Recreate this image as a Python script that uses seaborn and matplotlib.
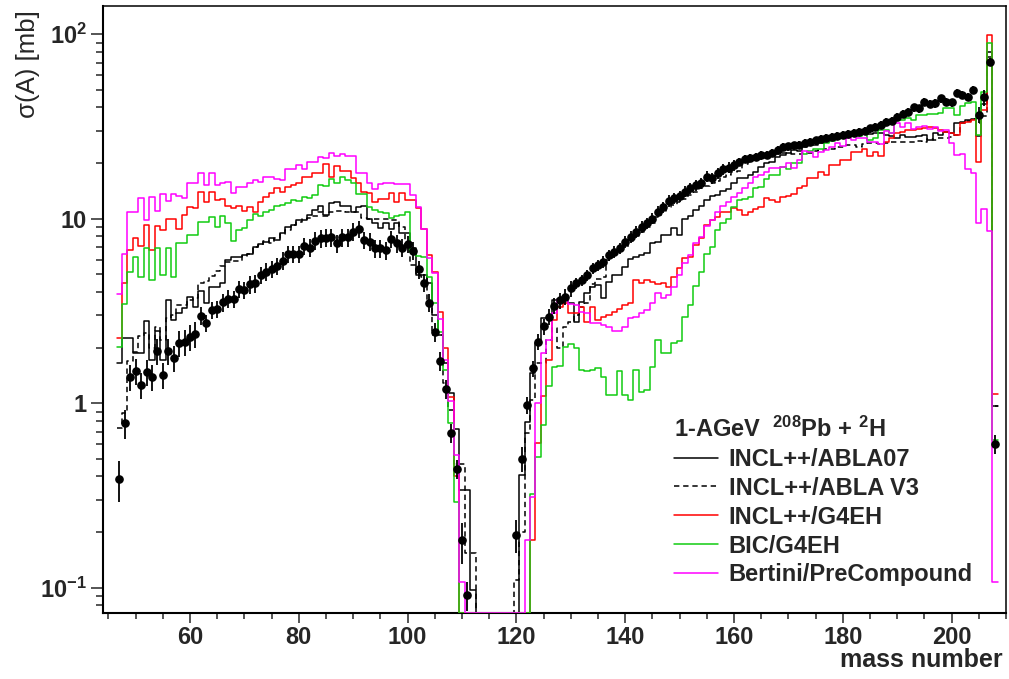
import numpy as np
import pandas as pd
import matplotlib
matplotlib.use('Agg')
import matplotlib.pyplot as plt
import seaborn as sns
from matplotlib.lines import Line2D
from matplotlib.ticker import FixedLocator, FixedFormatter, MultipleLocator, LogLocator, NullFormatter

# mass number of every histogram bin (bin width 1)
mass = np.arange(47, 209)
bin_edges = [a - 0.5 for a in range(47, 210)]

# model predictions [mb], one value per mass number 47..208 (0 = empty bin)
incl_abla07 = [
    1.65, 2.24, 2.26, 1.86, 1.86, 2.79, 1.71, 2.47, 1.71, 3.62,
    2.82, 3.09, 3.26, 3.77, 3.33, 4.06, 3.47, 4.27, 4.27, 4.45,
    5.96, 6.21, 6.21, 6.34, 6.46, 7.03, 7.30, 7.47, 7.81, 7.66,
    8.38, 9.03, 9.22, 9.82, 9.82, 10.4, 11.1, 11.7, 10.4, 12.2,
    12.3, 11.7, 11.7, 10.9, 11.5, 11.7, 10.0, 9.42, 8.85, 9.50,
    8.74, 9.50, 8.31, 8.31, 6.89, 4.94, 4.94, 4.45, 3.00, 2.34,
    1.64, 1.13, 0.72, 0.34, 0.34, 0.097, 0, 0, 0, 0,
    0, 0, 0, 0, 0.41, 0.79, 1.45, 2.11, 2.88, 2.88,
    3.62, 3.65, 3.62, 3.47, 2.76, 3.54, 3.93, 4.27, 4.36, 3.69,
    4.55, 4.94, 4.94, 5.48, 6.01, 6.21, 6.34, 6.53, 7.34, 7.49,
    8.14, 8.14, 8.85, 8.14, 9.90, 10.3, 11.1, 11.7, 12.6, 13.2,
    13.4, 14.1, 14.4, 15.6, 16.5, 16.5, 17.2, 17.9, 19.1, 19.9,
    20.3, 21.6, 22.1, 22.7, 23.5, 23.3, 24.5, 25.0, 25.0, 25.8,
    26.1, 26.9, 27.5, 27.5, 28.4, 28.4, 28.4, 28.7, 28.7, 29.0,
    29.2, 28.4, 28.0, 27.5, 28.4, 27.8, 27.8, 28.0, 28.4, 26.6,
    29.2, 28.4, 29.6, 29.0, 32.8, 33.4, 34.2, 34.8, 28.0, 42.0,
    80.0, 0.96]

incl_ablav3 = [
    0.73, 0.88, 1.70, 1.90, 2.30, 2.40, 2.00, 2.60, 2.20, 2.90,
    3.00, 3.40, 3.40, 3.60, 3.70, 4.50, 4.60, 4.90, 5.20, 5.50,
    5.80, 5.90, 5.90, 6.30, 6.40, 7.00, 7.20, 7.60, 7.40, 7.80,
    8.20, 8.66, 9.22, 9.60, 10.0, 10.1, 10.3, 10.9, 10.3, 10.9,
    11.0, 11.0, 10.9, 10.9, 10.9, 10.1, 9.90, 9.90, 9.90, 9.90,
    9.82, 9.82, 9.03, 7.03, 5.60, 4.94, 4.80, 3.59, 2.34, 2.34,
    1.28, 0.92, 0.47, 0.47, 0.153, 0.153, 0, 0, 0, 0,
    0, 0, 0, 0.11, 0.20, 0.69, 1.04, 1.65, 1.65, 2.20,
    2.54, 1.98, 2.59, 2.76, 3.00, 3.30, 3.50, 4.40, 4.70, 4.80,
    6.00, 6.30, 6.60, 7.00, 7.60, 8.00, 8.50, 9.00, 9.50, 10.2,
    10.8, 11.5, 11.9, 12.3, 12.8, 13.5, 14.0, 14.6, 15.0, 15.6,
    16.0, 16.8, 17.2, 17.8, 18.2, 19.7, 20.2, 20.9, 21.2, 21.6,
    21.9, 22.4, 22.7, 22.7, 22.4, 22.4, 22.7, 22.7, 23.3, 23.5,
    23.9, 23.9, 24.3, 24.5, 24.9, 25.0, 24.5, 25.3, 25.6, 25.6,
    25.3, 25.6, 26.1, 26.1, 25.9, 26.1, 25.9, 26.4, 26.1, 26.9,
    26.6, 27.2, 27.2, 27.8, 28.4, 33.0, 33.8, 34.5, 33.0, 36.0,
    75.0, 0.96]

incl_g4eh = [
    2.26, 4.49, 6.75, 7.81, 7.10, 9.22, 6.75, 9.10, 8.66, 10.0,
    9.90, 8.80, 10.4, 11.6, 11.4, 14.0, 12.3, 14.0, 12.6, 12.7,
    11.7, 11.4, 11.7, 11.0, 11.6, 10.9, 12.3, 13.1, 13.7, 14.6,
    14.0, 14.9, 15.2, 15.6, 16.9, 16.9, 17.6, 17.7, 19.7, 16.9,
    19.3, 18.0, 18.0, 16.5, 15.5, 14.0, 13.7, 12.3, 12.7, 12.7,
    13.8, 12.3, 13.8, 12.6, 12.6, 11.4, 8.77, 6.34, 5.15, 3.13,
    2.00, 1.08, 0.40, 0, 0, 0, 0, 0, 0, 0,
    0, 0, 0, 0, 0, 0, 0.18, 0.61, 1.09, 1.71,
    2.82, 3.33, 3.47, 3.06, 3.08, 3.33, 2.76, 3.33, 2.82, 2.93,
    3.00, 3.13, 3.22, 3.41, 3.47, 4.64, 4.50, 4.64, 4.55, 4.43,
    4.50, 4.27, 4.80, 5.37, 6.09, 6.20, 7.18, 7.81, 9.22, 9.82,
    10.2, 10.8, 10.8, 11.4, 11.1, 10.4, 10.9, 11.2, 11.6, 13.0,
    12.6, 12.3, 13.1, 13.3, 13.6, 14.6, 15.0, 16.5, 16.5, 17.9,
    17.2, 19.5, 19.5, 20.9, 20.9, 23.0, 23.0, 23.9, 21.8, 23.0,
    21.8, 26.1, 27.2, 29.0, 29.6, 30.2, 30.2, 30.4, 30.8, 31.2,
    30.8, 30.2, 29.6, 29.0, 28.4, 32.8, 33.4, 34.2, 20.3, 38.7,
    98.8, 1.12]

bic_g4eh = [
    2.02, 3.43, 5.15, 6.21, 4.80, 6.89, 4.64, 6.89, 4.94, 6.89,
    4.80, 7.34, 7.34, 8.14, 8.14, 9.60, 9.60, 10.2, 8.96, 10.3,
    9.42, 7.55, 8.66, 8.85, 9.82, 10.6, 10.3, 10.9, 11.1, 11.7,
    11.9, 12.2, 12.6, 12.5, 13.1, 12.9, 13.4, 15.2, 15.0, 16.3,
    15.5, 16.9, 16.2, 15.5, 13.6, 13.6, 11.5, 11.1, 10.9, 10.7,
    10.1, 10.3, 10.4, 10.9, 6.60, 6.30, 6.20, 4.80, 3.47, 2.44,
    1.51, 0.78, 0.29, 0, 0, 0, 0, 0, 0, 0,
    0, 0, 0, 0, 0, 0, 0.32, 0.51, 0.76, 1.23,
    1.57, 1.58, 2.02, 2.08, 1.98, 1.51, 1.50, 1.52, 1.54, 1.39,
    1.10, 1.10, 1.49, 1.10, 1.04, 1.52, 1.15, 1.17, 1.57, 2.21,
    1.86, 1.86, 2.12, 2.17, 2.91, 3.40, 4.31, 5.15, 6.42, 6.98,
    8.66, 9.42, 9.90, 11.5, 12.6, 12.8, 13.1, 14.6, 14.9, 16.3,
    17.2, 17.2, 19.1, 18.5, 20.1, 20.1, 22.4, 23.3, 23.7, 23.9,
    25.8, 26.4, 26.9, 27.5, 28.4, 28.4, 28.0, 29.0, 26.6, 27.5,
    30.2, 30.2, 29.0, 34.2, 34.2, 34.9, 34.2, 36.4, 36.4, 36.8,
    37.1, 37.5, 39.6, 39.6, 36.4, 40.8, 42.1, 43.0, 28.4, 48.7,
    89.0, 0.63]

bertini_precompound = [
    3.90, 6.42, 10.8, 10.8, 12.9, 9.80, 13.1, 11.0, 13.6, 12.4,
    13.6, 13.3, 12.9, 15.5, 15.5, 17.6, 15.2, 17.6, 15.2, 15.5,
    15.8, 13.7, 14.9, 14.9, 15.5, 16.1, 15.8, 16.8, 16.8, 16.3,
    16.1, 18.5, 18.5, 19.5, 18.5, 20.2, 20.2, 21.6, 21.2, 22.7,
    21.9, 22.4, 21.9, 21.9, 17.7, 17.7, 15.5, 14.4, 15.4, 15.5,
    15.5, 15.4, 15.4, 15.4, 13.4, 11.5, 8.74, 6.09, 5.05, 2.84,
    1.71, 1.02, 0.52, 0.107, 0, 0, 0, 0, 0, 0,
    0, 0, 0, 0, 0, 0.18, 0.31, 1.00, 1.86, 2.19,
    3.06, 3.62, 3.62, 3.45, 3.40, 3.13, 3.06, 2.70, 2.70, 2.65,
    2.59, 2.47, 2.47, 2.59, 2.88, 2.93, 3.06, 3.19, 3.47, 3.93,
    3.69, 3.85, 4.27, 4.94, 5.76, 6.34, 7.34, 7.91, 9.10, 9.82,
    10.8, 11.7, 12.3, 13.1, 13.8, 14.6, 15.5, 16.9, 17.2, 17.9,
    18.7, 18.7, 19.1, 19.9, 18.7, 20.9, 23.3, 23.0, 21.6, 23.0,
    23.5, 24.5, 25.8, 24.7, 27.2, 26.6, 27.2, 27.2, 26.1, 26.1,
    25.3, 29.9, 29.2, 32.8, 31.2, 32.8, 30.4, 31.2, 31.7, 30.4,
    31.5, 29.9, 30.2, 25.6, 22.1, 22.4, 18.5, 17.7, 9.49, 11.2,
    8.59, 0.107]

# measured cross sections [mb] and relative errors
data_mass = [
    47, 48, 49, 50, 51, 52, 53, 54, 55, 56, 57, 58, 59, 60, 61, 62, 63, 64, 65, 66,
    67, 68, 69, 70, 71, 72, 73, 74, 75, 76, 77, 78, 79, 80, 81, 82, 83, 84, 85, 86,
    87, 88, 89, 90, 91, 92, 93, 94, 95, 96, 97, 98, 99, 100, 101, 102, 103, 104, 105, 106,
    107, 108, 109, 110, 111,
    120, 121, 122, 123, 124, 125, 126, 127, 128, 129, 130, 131, 132, 133, 134, 135, 136, 137, 138, 139,
    140, 141, 142, 143, 144, 145, 146, 147, 148, 149, 150, 151, 152, 153, 154, 155, 156, 157, 158, 159,
    160, 161, 162, 163, 164, 165, 166, 167, 168, 169, 170, 171, 172, 173, 174, 175, 176, 177, 178, 179,
    180, 181, 182, 183, 184, 185, 186, 187, 188, 189, 190, 191, 192, 193, 194, 195, 196, 197, 198, 199,
    200, 201, 202, 203, 204, 205, 206, 207, 208]
data_sigma = [
    0.39, 0.78, 1.38, 1.49, 1.26, 1.47, 1.38, 1.92, 1.42, 1.92, 1.75, 2.11, 2.14, 2.29, 2.36, 2.97, 2.72, 3.19, 3.23, 3.51,
    3.68, 3.66, 4.15, 4.10, 4.40, 4.45, 4.94, 5.15, 5.32, 5.53, 5.90, 6.43, 6.43, 6.43, 7.10, 6.95, 7.58, 7.81, 7.87, 7.90,
    7.34, 7.90, 7.90, 8.48, 8.77, 7.64, 7.50, 6.89, 6.89, 6.74, 7.75, 7.34, 6.95, 7.27, 6.69, 5.30, 4.49, 3.50, 2.42, 1.69,
    1.19, 0.69, 0.44, 0.18, 0.091,
    0.193, 0.50, 0.975, 1.54, 2.15, 2.61, 2.94, 3.36, 3.61, 3.77, 4.19, 4.45, 4.64, 4.94, 5.37, 5.60, 5.83, 6.34, 6.61, 6.89,
    7.48, 7.97, 8.48, 9.03, 9.42, 10.0, 10.9, 11.5, 12.5, 12.9, 13.2, 14.0, 14.6, 15.2, 15.6, 16.9, 16.5, 17.6, 18.5, 18.9,
    19.5, 20.3, 21.0, 21.2, 21.6, 22.0, 22.2, 22.8, 23.5, 24.4, 24.6, 24.9, 25.2, 25.7, 26.1, 26.5, 27.0, 27.3, 27.7, 28.0,
    28.4, 28.7, 29.1, 29.6, 30.0, 30.8, 31.5, 32.0, 33.3, 34.0, 35.6, 37.1, 37.9, 40.0, 39.5, 43.0, 41.8, 42.1, 44.8, 43.0,
    42.6, 48.1, 46.6, 45.8, 49.7, 36.4, 45.5, 70.8, 0.60]
data_relerr = [
    0.25, 0.18, 0.16, 0.16, 0.16, 0.16, 0.16, 0.16, 0.16, 0.16, 0.16, 0.16, 0.16, 0.16, 0.16, 0.11, 0.11, 0.11, 0.11, 0.11,
    0.11, 0.11, 0.11, 0.11, 0.11, 0.11, 0.11, 0.11, 0.11, 0.11, 0.11, 0.11, 0.11, 0.11, 0.11, 0.11, 0.11, 0.11, 0.11, 0.11,
    0.11, 0.11, 0.11, 0.11, 0.11, 0.11, 0.11, 0.11, 0.11, 0.11, 0.11, 0.11, 0.11, 0.11, 0.11, 0.11, 0.11, 0.11, 0.12, 0.12,
    0.12, 0.12, 0.12, 0.25, 0.18,
    0.20, 0.15, 0.10, 0.10, 0.10, 0.10, 0.10, 0.10, 0.10, 0.10, 0.10, 0.07, 0.07, 0.07, 0.07, 0.07, 0.07, 0.07, 0.07, 0.07,
    0.07, 0.07, 0.07, 0.07, 0.07, 0.07, 0.07, 0.07, 0.07, 0.07, 0.07, 0.07, 0.07, 0.07, 0.07, 0.07, 0.07, 0.07, 0.07, 0.07,
    0.07, 0.05, 0.05, 0.05, 0.05, 0.05, 0.05, 0.05, 0.05, 0.05, 0.05, 0.05, 0.05, 0.05, 0.05, 0.05, 0.05, 0.05, 0.05, 0.05,
    0.05, 0.05, 0.05, 0.05, 0.05, 0.05, 0.05, 0.05, 0.05, 0.05, 0.05, 0.05, 0.05, 0.05, 0.05, 0.05, 0.05, 0.05, 0.05, 0.05,
    0.05, 0.05, 0.05, 0.05, 0.05, 0.10, 0.10, 0.05, 0.12]

legend_title = '1-AGeV  $^{208}$Pb + $^{2}$H'
model_labels = ['INCL++/ABLA07', 'INCL++/ABLA V3', 'INCL++/G4EH', 'BIC/G4EH', 'Bertini/PreCompound']
model_colors = ['black', 'black', '#ff0000', '#11cc11', '#ff00ff']
model_styles = ['-', (0, (3.5, 2.5)), '-', '-', '-']

YMIN, YMAX = 0.0728, 142.0

sns.set_theme(style='white')
plt.rcParams['font.family'] = ['Liberation Sans', 'DejaVu Sans']
plt.rcParams['mathtext.fontset'] = 'custom'
plt.rcParams['mathtext.rm'] = 'Liberation Sans:bold'
plt.rcParams['mathtext.it'] = 'Liberation Sans:bold:italic'
plt.rcParams['mathtext.bf'] = 'Liberation Sans:bold'
plt.rcParams['mathtext.default'] = 'rm'

fig = plt.figure(figsize=(10.09, 6.79), dpi=100)
ax = fig.add_axes([0.1021, 0.0972, 0.8949, 0.894])
ax.set_yscale('log')

model_values = [incl_abla07, incl_ablav3, incl_g4eh, bic_g4eh, bertini_precompound]
handles = []
for vals, lab, col, ls in zip(model_values, model_labels, model_colors, model_styles):
    # empty bins are drawn along the lower edge of the frame, like ROOT does
    df = pd.DataFrame({'A': mass, 'sigma': np.clip(np.array(vals, dtype=float), YMIN, None)})
    sns.histplot(data=df, x='A', weights='sigma', bins=bin_edges, element='step', fill=False,
                 color=col, linestyle=ls, linewidth=1.1, ax=ax, zorder=3)
    handles.append(Line2D([], [], color=col, linestyle=ls, linewidth=1.1))

dm = np.array(data_mass)
ds = np.array(data_sigma)
de = ds * np.array(data_relerr)
ax.errorbar(dm, ds, yerr=de, fmt='o', color='black', ms=5.2, elinewidth=1.3,
            capsize=0, zorder=5)

ax.set_xlim(44, 210)
ax.set_ylim(YMIN, YMAX)
ax.set_xlabel('')
ax.set_ylabel('')

ax.xaxis.set_major_locator(MultipleLocator(20))
ax.xaxis.set_minor_locator(MultipleLocator(5))
ax.yaxis.set_major_locator(FixedLocator([0.1, 1, 10, 100]))
ax.yaxis.set_major_formatter(FixedFormatter(['$10^{-1}$', '1', '10', '$10^{2}$']))
ax.yaxis.set_minor_locator(LogLocator(base=10, subs=np.arange(2, 10)))
ax.yaxis.set_minor_formatter(NullFormatter())

ax.tick_params(axis='x', which='major', direction='out', length=7.2, width=1.1, pad=2,
               labelsize=17, bottom=True, top=False)
ax.tick_params(axis='x', which='minor', direction='out', length=4, width=1.1, bottom=True, top=False)
ax.tick_params(axis='y', which='major', direction='out', length=8.6, width=1.1, pad=3,
               labelsize=17, left=True, right=False)
ax.tick_params(axis='y', which='minor', direction='out', length=4.8, width=1.1, left=True, right=False)
for lab in ax.get_xticklabels() + ax.get_yticklabels():
    lab.set_fontweight('bold')

for side in ['left', 'bottom']:
    ax.spines[side].set_linewidth(1.5)
    ax.spines[side].set_color('black')
for side in ['top', 'right']:
    ax.spines[side].set_linewidth(1.1)
    ax.spines[side].set_color('black')

leg = ax.legend(handles, model_labels, title=legend_title, loc='upper left',
                bbox_to_anchor=(0.625, 0.335), frameon=False, borderpad=0.3, borderaxespad=0,
                handlelength=1.85, handletextpad=0.45, labelspacing=0.25,
                prop={'size': 17, 'weight': 'bold'}, alignment='left')
leg.get_title().set_fontsize(17)
leg.get_title().set_fontweight('bold')

fig.text(0.0278, 0.985, 'σ(A) [mb]', rotation=90, ha='center', va='top', fontsize=18.5)
fig.text(0.994, 0.028, 'mass number', ha='right', va='center', fontsize=18, fontweight='bold')

fig.savefig('out.png', dpi=100)
